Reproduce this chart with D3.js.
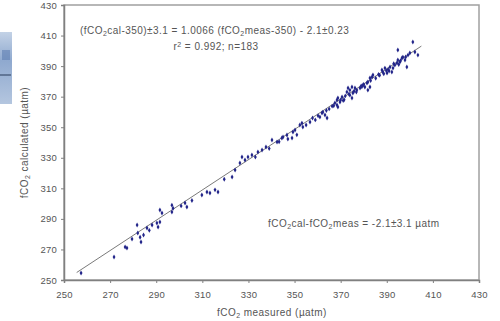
<!DOCTYPE html>
<html>
<head>
<meta charset="utf-8">
<script src="https://cdn.jsdelivr.net/npm/d3@7"></script>
<style>
  html, body { margin: 0; padding: 0; background: #fff; }
  svg { display: block; font-family: "Liberation Sans", Arial, sans-serif; }
</style>
</head>
<body>
<div id="chart"></div>
<script>
// measured fCO2 (x) and calculated fCO2 (y)
var measured = [
  257.4, 271.7, 277.3, 276.5, 279.5, 281.7, 282.0, 283.0, 283.4, 286.0,
  288.2, 290.3, 290.8, 291.6, 291.6, 292.5, 296.8, 297.3, 296.8, 302.5,
  303.3, 309.8, 312.0, 313.3, 315.5, 316.8, 322.9, 324.2, 326.3, 327.2,
  328.5, 329.8, 331.5, 334.1, 335.9, 337.6, 340.2, 342.4, 344.5, 345.0,
  346.7, 347.1, 348.9, 351.0, 349.3, 350.2, 352.3, 353.2, 353.6, 356.7,
  361.0, 361.9, 362.3, 363.2, 364.1, 367.5, 368.4, 368.8, 369.7, 370.6,
  368.4, 368.8, 372.7, 373.2, 374.0, 374.9, 375.3, 376.2, 377.0, 374.0,
  374.9, 378.4, 379.7, 380.5, 381.4, 381.8, 382.7, 383.6, 384.0, 381.8,
  382.7, 387.9, 388.3, 389.2, 390.1, 391.4, 392.2, 392.7, 393.5, 394.4,
  394.8, 395.7, 396.6, 397.0, 397.9, 398.7, 399.2, 400.0, 394.8, 401.3,
  403.5, 402.2, 360.2, 365.0, 366.3, 371.5, 372.0, 376.8, 378.9, 380.0,
  385.2, 386.4, 389.8, 391.0, 395.2, 396.0, 359.0, 357.8, 371.1, 373.6,
  375.8, 379.2, 383.0, 386.9, 388.7, 390.6, 393.0, 398.2, 284.5, 287.0,
  300.8, 305.5, 319.5, 333.0, 339.0, 343.3, 355.0, 363.8, 367.0, 370.0
];
var calculated = [
  254.6, 265.0, 271.0, 271.6, 276.8, 286.0, 280.8, 278.0, 274.9, 284.0,
  286.0, 287.3, 284.7, 288.0, 295.8, 293.8, 299.0, 297.0, 294.5, 300.4,
  297.8, 305.6, 307.6, 307.0, 309.0, 307.6, 317.4, 322.0, 326.6, 330.5,
  328.5, 330.5, 331.8, 333.8, 335.1, 337.0, 341.6, 340.3, 342.9, 343.6,
  344.9, 342.3, 342.9, 345.0, 346.9, 348.2, 351.4, 352.7, 350.1, 353.4,
  356.7, 359.3, 359.9, 358.0, 356.0, 365.8, 367.8, 369.1, 366.5, 369.8,
  364.5, 363.2, 373.0, 375.7, 374.3, 376.3, 372.4, 375.7, 374.3, 371.0,
  369.1, 375.7, 377.6, 376.3, 378.9, 379.6, 382.2, 382.9, 384.2, 374.3,
  376.3, 387.4, 386.1, 388.7, 385.5, 389.4, 386.1, 388.7, 390.7, 392.0,
  394.0, 392.7, 395.3, 395.9, 394.0, 389.4, 397.2, 398.6, 400.5, 405.8,
  397.2, 399.2, 357.5, 362.0, 363.8, 368.0, 370.5, 373.0, 377.0, 378.0,
  382.0, 384.5, 387.0, 386.8, 391.0, 393.5, 354.8, 356.0, 367.5, 371.8,
  373.5, 376.5, 380.5, 384.0, 385.0, 387.8, 391.5, 396.0, 279.5, 282.5,
  298.5, 302.0, 316.0, 330.5, 336.0, 340.5, 351.5, 361.0, 364.0, 367.8
];

// trend line end points
var lineX = [255.5, 405];
var lineY = [254.9, 403.1];

var xTicks = [250, 270, 290, 310, 330, 350, 370, 390, 410, 430];
var yTicks = [250, 270, 290, 310, 330, 350, 370, 390, 410, 430];

(function () {
  var width = 500, height = 321;
  var plotL = 64, plotR = 479, plotT = 5, plotB = 280;

  var svg = d3.select("#chart").append("svg")
    .attr("width", width)
    .attr("height", height);

  // scrap of another figure at the left edge
  var grad = svg.append("defs").append("linearGradient")
    .attr("id", "scrap").attr("x1", 0).attr("y1", 0).attr("x2", 0).attr("y2", 1);
  grad.append("stop").attr("offset", "0%").attr("stop-color", "#c3d2e6");
  grad.append("stop").attr("offset", "40%").attr("stop-color", "#8fa9cf");
  grad.append("stop").attr("offset", "100%").attr("stop-color", "#b4c6df");
  svg.append("rect").attr("x", 0).attr("y", 32).attr("width", 12).attr("height", 72)
    .attr("fill", "url(#scrap)");
  svg.append("rect").attr("x", 2).attr("y", 50).attr("width", 8).attr("height", 10)
    .attr("fill", "#5f7fb3").attr("opacity", 0.6);
  svg.append("rect").attr("x", 0).attr("y", 74).attr("width", 11).attr("height", 2)
    .attr("fill", "#3c4f6e").attr("opacity", 0.6);

  var x = d3.scaleLinear().domain([250, 430]).range([plotL, plotR]);
  var y = d3.scaleLinear().domain([250, 430]).range([plotB, plotT]);

  // plot frame
  svg.append("rect")
    .attr("x", plotL).attr("y", plotT)
    .attr("width", plotR - plotL).attr("height", plotB - plotT)
    .attr("fill", "#fff")
    .attr("stroke", "#a0a0a0")
    .attr("stroke-width", 1.5);

  var xAxis = svg.append("g")
    .attr("transform", "translate(0," + plotB + ")")
    .call(d3.axisBottom(x).tickValues(xTicks).tickSize(3).tickPadding(8).tickFormat(d3.format("d")));
  var yAxis = svg.append("g")
    .attr("transform", "translate(" + plotL + ",0)")
    .call(d3.axisLeft(y).tickValues(yTicks).tickSize(3).tickPadding(4).tickFormat(d3.format("d")));

  [xAxis, yAxis].forEach(function (g) {
    g.select(".domain").attr("stroke", "#808080").attr("stroke-width", 1.5);
    g.selectAll(".tick line").attr("stroke", "#808080");
    g.selectAll(".tick text")
      .attr("fill", "#555")
      .style("font-size", "9.5px")
      .style("letter-spacing", "0.2px")
      .style("font-family", "'Liberation Sans', Arial, sans-serif");
  });

  // trend line
  svg.append("line")
    .attr("x1", x(lineX[0])).attr("y1", y(lineY[0]))
    .attr("x2", x(lineX[1])).attr("y2", y(lineY[1]))
    .attr("stroke", "#7a7a7a")
    .attr("stroke-width", 1);

  // points
  var pts = measured.map(function (m, i) { return [m, calculated[i]]; });
  svg.append("g").selectAll("path")
    .data(pts)
    .enter().append("path")
    .attr("d", d3.symbol().type(d3.symbolDiamond).size(7))
    .attr("transform", function (d) { return "translate(" + x(d[0]) + "," + y(d[1]) + ")"; })
    .attr("fill", "#23268a");

  // text with subscript 2s
  function sub(t, parts) {
    parts.forEach(function (p) {
      var s = t.append("tspan").text(p[0]);
      if (p[1]) s.attr("font-size", "7px").attr("dy", 2);
      if (p[2]) s.attr("dy", -2);
    });
  }

  function label(px, py, anchor) {
    return svg.append("text").attr("x", px).attr("y", py)
      .attr("text-anchor", anchor || "start")
      .attr("font-size", "10px")
      .style("letter-spacing", "0.45px")
      .attr("fill", "#555");
  }

  var t1 = label(80, 34);
  sub(t1, [["(fCO"], ["2", true], ["cal-350)±3.1 = 1.0066 (fCO", false, true], ["2", true],
    ["meas-350) - 2.1±0.23", false, true]]);

  var t2 = label(216, 50, "middle");
  t2.append("tspan").text("r");
  t2.append("tspan").text("2").attr("font-size", "7px").attr("dy", -3);
  t2.append("tspan").text(" = 0.992; n=183").attr("dy", 3);

  var t3 = label(268, 227);
  sub(t3, [["fCO"], ["2", true], ["cal-fCO", false, true], ["2", true], ["meas = -2.1±3.1 µatm", false, true]]);

  // axis titles
  var xt = label(272, 316, "middle");
  sub(xt, [["fCO"], ["2", true], [" measured (µatm)", false, true]]);

  var yt = svg.append("text")
    .attr("transform", "translate(28," + ((plotT + plotB) / 2) + ") rotate(-90)")
    .attr("text-anchor", "middle").attr("font-size", "10px")
    .style("letter-spacing", "0.45px").attr("fill", "#555");
  sub(yt, [["fCO"], ["2", true], [" calculated (µatm)", false, true]]);
})();
</script>
</body>
</html>
